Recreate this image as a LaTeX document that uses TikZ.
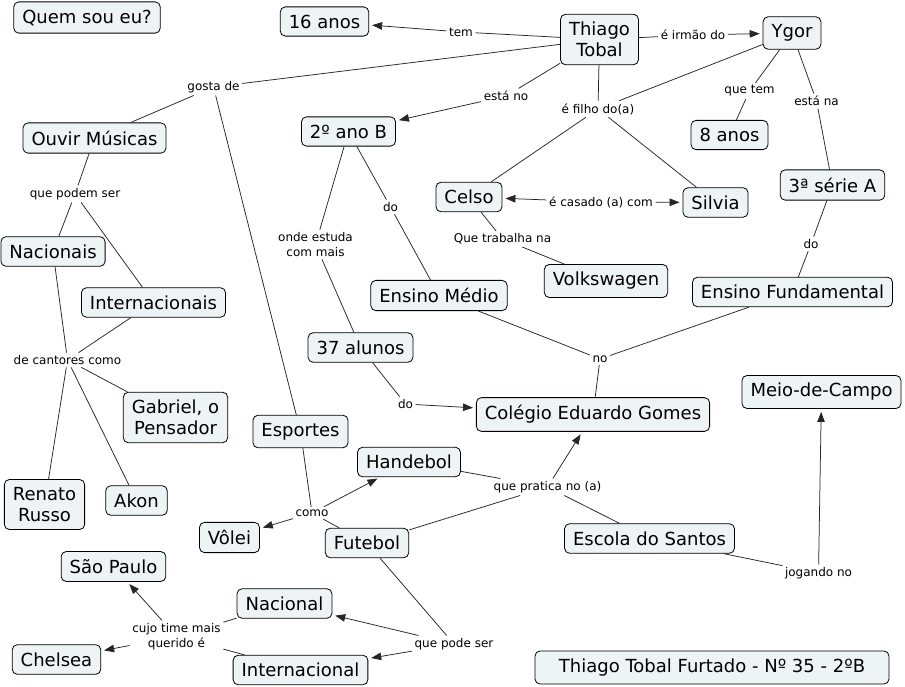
\documentclass[tikz,border=0pt]{standalone}
\usepackage{fontspec}
\setmainfont{DejaVu Sans}
\usetikzlibrary{arrows.meta}
\definecolor{boxfill}{RGB}{238,243,246}
\begin{document}
\begin{tikzpicture}[x=1pt,y=-1pt,
 concept/.style={draw=black, line width=0.8pt, rounded corners=5pt, fill=boxfill, inner xsep=8.5pt, inner ysep=7.8pt, font=\fontsize{18}{21}\selectfont, align=center},
 lbl/.style={inner sep=2.5pt, font=\fontsize{12}{15}\selectfont, align=center},
 link/.style={line width=0.75pt, draw=black!85},
 arr/.style={link, -{Triangle[length=10pt,width=7.5pt]}, shorten >=3pt}
]
\fill[white] (0,0) rectangle (905,687);
\useasboundingbox (0,0) rectangle (905,687);

% concepts
\node[concept] (quem) at (87,17.5) {Quem sou eu?};
\node[concept] (dez) at (324.5,21.5) {16 anos};
\node[concept] (thiago) at (599.5,39.5) {Thiago\\Tobal};
\node[concept] (ygor) at (792,33) {Ygor};
\node[concept] (ouvir) at (94.5,138) {Ouvir Músicas};
\node[concept] (ano) at (348.5,131.5) {2º ano B};
\node[concept] (oito) at (729.5,135) {8 anos};
\node[concept] (celso) at (469,197) {Celso};
\node[concept] (silvia) at (715.5,202.5) {Silvia};
\node[concept] (serie) at (832.5,185) {3ª série A};
\node[concept, anchor=west] (nac) at (0.5,251.5) {Nacionais};
\node[concept] (inter) at (153.5,302.5) {Internacionais};
\node[concept] (vw) at (606,281) {Volkswagen};
\node[concept] (medio) at (439,295.5) {Ensino Médio};
\node[concept] (fund) at (792.5,292) {Ensino Fundamental};
\node[concept] (alunos) at (360.5,347.5) {37 alunos};
\node[concept] (gabriel) at (175.5,417.5) {Gabriel, o\\Pensador};
\node[concept] (esportes) at (300.5,431.5) {Esportes};
\node[concept] (colegio) at (593,414.5) {Colégio Eduardo Gomes};
\node[concept] (meio) at (821.5,392) {Meio-de-Campo};
\node[concept] (handebol) at (409,462) {Handebol};
\node[concept] (renato) at (44.5,504.5) {Renato\\Russo};
\node[concept] (akon) at (136.5,500.5) {Akon};
\node[concept] (volei) at (229.5,537.5) {Vôlei};
\node[concept] (futebol) at (367,543) {Futebol};
\node[concept] (santos) at (649.5,538.5) {Escola do Santos};
\node[concept] (sp) at (113.5,566.5) {São Paulo};
\node[concept] (nacional) at (284.5,603.5) {Nacional};
\node[concept] (chelsea) at (56.5,659.5) {Chelsea};
\node[concept] (internacional) at (300.5,670) {Internacional};
\node[concept, minimum width=354pt, minimum height=33pt] (autor) at (712,667.5) {Thiago Tobal Furtado - Nº 35 - 2ºB};

% link labels
\node[lbl] (tem) at (461,32) {tem};
\node[lbl] (irmao) at (693,35) {é irmão do};
\node[lbl] (gosta) at (213.5,87) {gosta de};
\node[lbl] (estano) at (506,96) {está no};
\node[lbl] (filho) at (598,109) {é filho do(a)};
\node[lbl] (quetem) at (749.5,91) {que tem};
\node[lbl] (estana) at (816.5,101) {está na};
\node[lbl] (podem) at (75,194) {que podem ser};
\node[lbl] (onde) at (315.5,244.5) {onde estuda\\com mais};
\node[lbl] (doA) at (390.5,207) {do};
\node[lbl] (casado) at (601,202) {é casado (a) com};
\node[lbl] (trabalha) at (502.5,239) {Que trabalha na};
\node[lbl] (doB) at (811,244) {do};
\node[lbl] (cantores) at (67.5,360) {de cantores como};
\node[lbl] (no) at (600,359) {no};
\node[lbl] (doC) at (405.5,404) {do};
\node[lbl] (como) at (312,513) {como};
\node[lbl] (pratica) at (547.5,487) {que pratica no (a)};
\node[lbl] (jogando) at (818.5,573) {jogando no};
\node[lbl] (cujo) at (176.5,636.5) {cujo time mais\\querido é};
\node[lbl] (podeser) at (454,644) {que pode ser};

% connectors
\draw[link] (thiago) -- (tem);
\draw[arr] (tem) -- (dez);
\draw[link] (thiago) -- (irmao);
\draw[arr] (irmao) -- (ygor);
\draw[link] (thiago) -- (gosta);
\draw[link] (gosta) -- (ouvir);
\draw[link] (gosta) -- (esportes);
\draw[link] (thiago) -- (estano);
\draw[arr] (estano) -- (ano);
\draw[link] (thiago) -- (filho);
\draw[link] (ygor) -- (filho);
\draw[link] (filho) -- (celso);
\draw[link] (filho) -- (silvia);
\draw[link] (ygor) -- (quetem);
\draw[link] (quetem) -- (oito);
\draw[link] (ygor) -- (estana);
\draw[link] (estana) -- (serie);
\draw[link] (ouvir) -- (podem);
\draw[link] (podem) -- (nac);
\draw[link] (podem) -- (inter);
\draw[link] (nac) -- (cantores);
\draw[link] (inter) -- (cantores);
\draw[link] (cantores) -- (gabriel);
\draw[link] (cantores) -- (renato);
\draw[link] (cantores) -- (akon);
\draw[link] (ano) -- (onde);
\draw[link] (onde) -- (alunos);
\draw[link] (ano) -- (doA);
\draw[link] (doA) -- (medio);
\draw[arr] (casado) -- (celso);
\draw[arr] (casado) -- (silvia);
\draw[link] (celso) -- (trabalha);
\draw[link] (trabalha) -- (vw);
\draw[link] (serie) -- (doB);
\draw[link] (doB) -- (fund);
\draw[link] (medio) -- (no);
\draw[link] (fund) -- (no);
\draw[link] (no) -- (colegio);
\draw[link] (alunos) -- (doC);
\draw[arr] (doC) -- (colegio);
\draw[link] (esportes) -- (como);
\draw[arr] (como) -- (volei);
\draw[arr] (como) -- (handebol);
\draw[link] (como) -- (futebol);
\draw[link] (handebol) -- (pratica);
\draw[link] (futebol) -- (pratica);
\draw[arr] (pratica) -- (colegio);
\draw[link] (pratica) -- (santos);
\draw[link] (santos) -- (jogando);
\draw[arr] (jogando) -- (meio);
\draw[link] (futebol) -- (podeser);
\draw[arr] (podeser) -- (nacional);
\draw[arr] (podeser) -- (internacional);
\draw[link] (nacional) -- (cujo);
\draw[link] (internacional) -- (cujo);
\draw[arr] (cujo) -- (sp);
\draw[arr] (cujo) -- (chelsea);
\end{tikzpicture}
\end{document}
